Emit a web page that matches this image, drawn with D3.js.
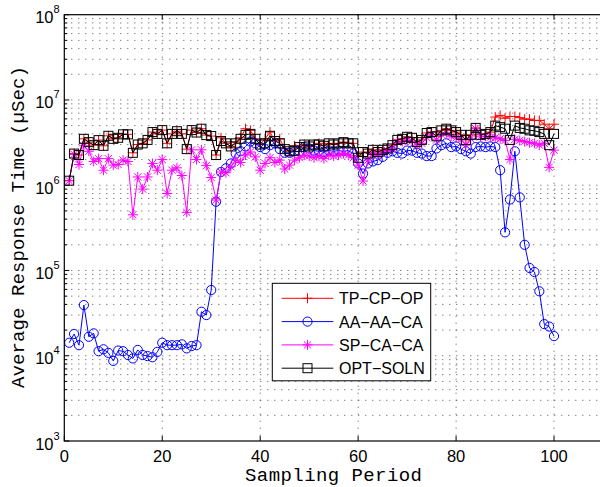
<!DOCTYPE html>
<html>
<head>
<meta charset="utf-8">
<script src="https://cdn.jsdelivr.net/npm/d3@7"></script>
<style>
  body { margin: 0; background: #fff; }
  svg { display: block; }
</style>
</head>
<body>
<svg></svg>
<script>
// response times (uSec) per sampling period 1..100
const tpcpop = [
  1.13e6, 2.35e6, 2.26e6, 3.5e6, 3.2e6, 2.95e6, 3.38e6, 2.9e6, 3.8e6, 3.5e6,
  3.6e6, 3.95e6, 3.95e6, 2.4e6, 3.0e6, 3.1e6, 3.4e6, 4.2e6, 4.0e6, 4.43e6,
  3.1e6, 4.0e6, 4.3e6, 4.0e6, 2.65e6, 4.43e6, 4.15e6, 4.6e6, 3.87e6, 3.77e6,
  2.26e6, 3.6e6, 3.1e6, 2.85e6, 3.2e6, 3.6e6, 4.6e6, 4.4e6, 3.5e6, 3.0e6,
  3.5e6, 4.2e6, 3.3e6, 3.5e6, 2.7e6, 2.5e6, 2.9e6, 2.8e6, 3.0e6, 2.85e6,
  3.0e6, 3.1e6, 2.9e6, 3.1e6, 3.0e6, 3.1e6, 3.2e6, 3.1e6, 3.1e6, 2.2e6,
  2.45e6, 2.4e6, 2.6e6, 2.45e6, 2.6e6, 2.7e6, 2.95e6, 3.4e6, 3.5e6, 3.7e6,
  3.6e6, 3.2e6, 3.4e6, 4.1e6, 4.2e6, 3.75e6, 4.4e6, 4.6e6, 4.4e6, 4.2e6,
  3.9e6, 3.4e6, 3.9e6, 4.7e6, 3.9e6, 4.0e6, 4.2e6, 6.3e6, 6.6e6, 6.1e6,
  6.4e6, 6.4e6, 6.2e6, 5.95e6, 5.95e6, 5.75e6, 5.75e6, 5.2e6, 4.6e6, 5.2e6
];
const aaaaca = [
  1.42e4, 1.8e4, 1.33e4, 3.93e4, 1.67e4, 1.83e4, 1.13e4, 1.19e4, 1.08e4, 8.7e3,
  1.15e4, 1.13e4, 1.02e4, 9.3e3, 1.17e4, 1.02e4, 9.9e3, 9.6e3, 1.11e4, 1.42e4,
  1.33e4, 1.33e4, 1.33e4, 1.36e4, 1.22e4, 1.3e4, 1.33e4, 3.28e4, 3.0e4, 5.9e4,
  6.4e5, 1.43e6, 1.58e6, 1.8e6, 2.35e6, 2.5e6, 2.85e6, 3.25e6, 3.1e6, 2.8e6,
  2.65e6, 2.95e6, 3.1e6, 2.65e6, 2.4e6, 2.4e6, 2.5e6, 2.5e6, 2.8e6, 2.7e6,
  2.55e6, 2.5e6, 2.45e6, 2.55e6, 2.5e6, 2.55e6, 2.5e6, 2.55e6, 2.35e6, 1.8e6,
  1.37e6, 1.8e6, 1.9e6, 1.97e6, 2.15e6, 2.4e6, 2.5e6, 2.4e6, 2.35e6, 2.55e6,
  2.55e6, 2.4e6, 2.35e6, 2.2e6, 2.2e6, 2.7e6, 2.95e6, 3.1e6, 2.8e6, 2.85e6,
  2.65e6, 2.5e6, 2.35e6, 2.8e6, 2.85e6, 2.8e6, 2.85e6, 2.8e6, 1.5e6, 2.8e5,
  6.8e5, 2.5e6, 7.2e5, 2.0e5, 1.07e5, 9.6e4, 5.7e4, 2.35e4, 2.2e4, 1.7e4
];
const spcaca = [
  1.13e6, 2.3e6, 1.75e6, 2.9e6, 2.5e6, 1.9e6, 2.05e6, 1.5e6, 2.05e6, 1.72e6,
  1.75e6, 1.97e6, 1.9e6, 4.5e5, 1.25e6, 9.0e5, 1.25e6, 1.8e6, 1.5e6, 2.0e6,
  8.0e5, 1.5e6, 1.6e6, 1.3e6, 4.8e5, 2.6e6, 2.0e6, 2.6e6, 1.7e6, 1.23e6,
  6.7e5, 1.43e6, 1.4e6, 1.65e6, 1.97e6, 1.85e6, 2.26e6, 2.45e6, 2.15e6, 1.5e6,
  1.8e6, 2.1e6, 1.85e6, 1.97e6, 1.55e6, 1.72e6, 1.97e6, 2.1e6, 2.25e6, 2.2e6,
  2.1e6, 2.2e6, 2.05e6, 2.25e6, 2.2e6, 2.25e6, 2.35e6, 2.25e6, 2.1e6, 1.72e6,
  1.12e6, 1.97e6, 2.35e6, 2.25e6, 2.45e6, 2.55e6, 2.7e6, 3.2e6, 3.25e6, 3.4e6,
  3.3e6, 2.95e6, 3.1e6, 3.6e6, 3.9e6, 3.4e6, 3.9e6, 4.1e6, 3.75e6, 3.6e6,
  3.45e6, 2.95e6, 3.5e6, 4.6e6, 3.7e6, 3.75e6, 3.65e6, 3.6e6, 3.5e6, 3.35e6,
  2.0e6, 3.45e6, 3.35e6, 3.25e6, 3.15e6, 3.1e6, 2.95e6, 3.1e6, 1.62e6, 2.58e6
];
const optsoln = [
  1.13e6, 2.35e6, 2.26e6, 3.5e6, 3.2e6, 2.95e6, 3.38e6, 2.9e6, 3.8e6, 3.5e6,
  3.6e6, 3.95e6, 3.95e6, 2.4e6, 3.0e6, 3.1e6, 3.4e6, 4.2e6, 4.0e6, 4.43e6,
  3.1e6, 4.0e6, 4.3e6, 4.0e6, 2.65e6, 4.43e6, 4.15e6, 4.6e6, 3.87e6, 3.77e6,
  2.26e6, 3.3e6, 3.1e6, 2.85e6, 3.1e6, 3.5e6, 3.9e6, 4.0e6, 3.5e6, 3.0e6,
  3.1e6, 3.8e6, 3.3e6, 3.1e6, 2.65e6, 2.5e6, 2.55e6, 2.8e6, 3.0e6, 2.85e6,
  3.0e6, 3.0e6, 2.9e6, 3.1e6, 3.0e6, 3.1e6, 3.2e6, 3.1e6, 3.1e6, 2.1e6,
  2.45e6, 2.35e6, 2.6e6, 2.45e6, 2.6e6, 2.7e6, 2.95e6, 3.4e6, 3.5e6, 3.7e6,
  3.6e6, 3.2e6, 3.4e6, 4.1e6, 4.2e6, 3.75e6, 4.4e6, 4.6e6, 4.4e6, 4.2e6,
  3.9e6, 3.4e6, 3.9e6, 4.7e6, 3.9e6, 4.0e6, 4.2e6, 5.0e6, 4.8e6, 4.6e6,
  3.4e6, 5.0e6, 4.7e6, 4.6e6, 4.4e6, 4.35e6, 4.2e6, 4.0e6, 2.95e6, 4.0e6
];

const seriesNames = ["TP\u2212CP\u2212OP", "AA\u2212AA\u2212CA", "SP\u2212CA\u2212CA", "OPT\u2212SOLN"];
const seriesColors = ["#ff0000", "#0000ff", "#ff00ff", "#000000"];
const seriesMarkers = ["plus", "circle", "star", "square"];
const seriesValues = [tpcpop, aaaaca, spcaca, optsoln];

const xTicks = [0, 20, 40, 60, 80, 100];
const yDecades = [3, 4, 5, 6, 7, 8];

const svg = d3.select("svg").attr("width", 600).attr("height", 487);

const plotLeft = 64.3, plotRight = 603, plotTop = 14.7, plotBottom = 441;

const xScale = d3.scaleLinear().domain([0, 110]).range([plotLeft, plotRight]);
const yScale = d3.scaleLog().domain([1e3, 1e8]).range([plotBottom, plotTop]);

// grid
const minorVals = [];
yDecades.slice(0, -1).forEach((e) => {
  for (let m = 2; m <= 9; m++) minorVals.push(m * Math.pow(10, e));
});
const grid = svg.append("g").attr("stroke", "#222").attr("stroke-width", 0.8)
  .attr("stroke-dasharray", "1,6").attr("fill", "none");
grid.selectAll(".hy")
  .data(minorVals.concat(yDecades.slice(1, -1).map((e) => Math.pow(10, e))))
  .enter().append("line")
  .attr("x1", plotLeft).attr("x2", plotRight)
  .attr("y1", (d) => yScale(d)).attr("y2", (d) => yScale(d));
grid.selectAll(".vx").data(xTicks.slice(1)).enter().append("line")
  .attr("x1", (d) => xScale(d)).attr("x2", (d) => xScale(d))
  .attr("y1", plotTop).attr("y2", plotBottom);

// ticks (inside)
const ticks = svg.append("g").attr("stroke", "#000").attr("stroke-width", 1);
xTicks.forEach((t) => {
  ticks.append("line").attr("x1", xScale(t)).attr("x2", xScale(t)).attr("y1", plotBottom).attr("y2", plotBottom - 5);
  ticks.append("line").attr("x1", xScale(t)).attr("x2", xScale(t)).attr("y1", plotTop).attr("y2", plotTop + 5);
});
yDecades.forEach((e) => {
  const y = yScale(Math.pow(10, e));
  ticks.append("line").attr("x1", plotLeft).attr("x2", plotLeft + 5).attr("y1", y).attr("y2", y);
});
minorVals.forEach((v) => {
  ticks.append("line").attr("x1", plotLeft).attr("x2", plotLeft + 3).attr("y1", yScale(v)).attr("y2", yScale(v));
});

// series
const marker = (g, type, color) => {
  if (type === "circle") {
    g.append("circle").attr("r", 4.6).attr("fill", "none").attr("stroke", color);
  } else if (type === "square") {
    g.append("rect").attr("x", -4.5).attr("y", -4.5).attr("width", 9).attr("height", 9)
      .attr("fill", "none").attr("stroke", color);
  } else if (type === "plus") {
    g.append("path").attr("d", "M-5,0H5M0,-5V5").attr("stroke", color);
  } else {
    g.append("path").attr("d", "M-5,0H5M0,-5V5M-3.6,-3.6L3.6,3.6M-3.6,3.6L3.6,-3.6").attr("stroke", color);
  }
};

const line = d3.line()
  .x((d, i) => xScale(i + 1))
  .y((d) => yScale(d));

const plot = svg.append("g");
seriesValues.forEach((vals, s) => {
  const g = plot.append("g");
  g.append("path").datum(vals).attr("d", line)
    .attr("fill", "none").attr("stroke", seriesColors[s]).attr("stroke-width", 1);
  vals.forEach((v, i) => {
    const m = g.append("g").attr("transform", `translate(${xScale(i + 1)},${yScale(v)})`);
    marker(m, seriesMarkers[s], seriesColors[s]);
  });
});

// axes box
svg.append("rect").attr("x", plotLeft).attr("y", plotTop)
  .attr("width", plotRight - plotLeft).attr("height", plotBottom - plotTop)
  .attr("fill", "none").attr("stroke", "#000").attr("stroke-width", 1.2);

// tick labels
const labelFont = "Liberation Sans, Arial, Helvetica, sans-serif";
svg.append("g").selectAll("text").data(xTicks).enter().append("text")
  .attr("x", (d) => xScale(d)).attr("y", 462)
  .attr("text-anchor", "middle").attr("font-family", labelFont).attr("font-size", 16.5)
  .text((d) => d);

const yl = svg.append("g").attr("font-family", labelFont);
yDecades.forEach((e) => {
  const y = yScale(Math.pow(10, e));
  yl.append("text").attr("x", 53.5).attr("y", y + 8.5).attr("text-anchor", "end")
    .attr("font-size", 16.5).text("10");
  yl.append("text").attr("x", 53.5).attr("y", y - 1.5).attr("font-size", 11).text(e);
});

// axis titles
const monoFont = "Liberation Mono, Courier New, monospace";
svg.append("text").attr("x", 333.5).attr("y", 481).attr("text-anchor", "middle")
  .attr("font-family", monoFont).attr("font-size", 19)
  .attr("textLength", 177).attr("lengthAdjust", "spacing")
  .text("Sampling Period");
svg.append("text").attr("transform", "translate(24,227) rotate(-90)").attr("text-anchor", "middle")
  .attr("font-family", monoFont).attr("font-size", 19)
  .attr("textLength", 322).attr("lengthAdjust", "spacing")
  .text("Average Response Time (\u00b5Sec)");

// legend
const legend = svg.append("g");
legend.append("rect").attr("x", 272.3).attr("y", 283.3).attr("width", 158.4).attr("height", 97.5)
  .attr("fill", "#fff").attr("stroke", "#000").attr("stroke-width", 1);
seriesNames.forEach((name, s) => {
  const y = 298.3 + s * 23.3;
  legend.append("line").attr("x1", 281.7).attr("x2", 333.3).attr("y1", y).attr("y2", y)
    .attr("stroke", seriesColors[s]);
  const m = legend.append("g").attr("transform", `translate(307.5,${y})`);
  marker(m, seriesMarkers[s], seriesColors[s]);
  legend.append("text").attr("x", 339).attr("y", y + 6)
    .attr("font-family", labelFont).attr("font-size", 16).text(name);
});
</script>
</body>
</html>
